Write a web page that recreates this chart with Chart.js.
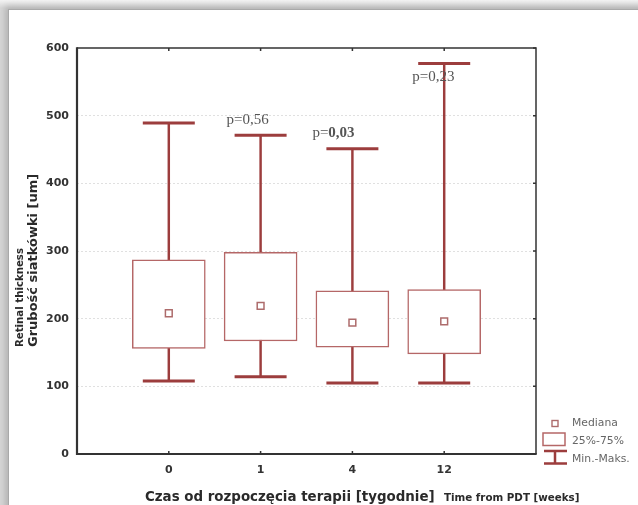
<!DOCTYPE html>
<html>
<head>
<meta charset="utf-8">
<script src="https://cdn.jsdelivr.net/npm/chart.js@4/dist/chart.umd.min.js"></script>
<style>
  html, body { margin: 0; padding: 0; width: 638px; height: 505px; overflow: hidden; }
  body { background: linear-gradient(to bottom, #f3f3f3 0px, #d6d6d6 8px); position: relative; }
  .card {
    position: absolute; left: 8px; top: 9px; width: 700px; height: 560px;
    background: #fff; border-top: 1px solid #a9a9a9; border-left: 1px solid #a9a9a9;
    box-shadow: -3px -3px 6px rgba(0,0,0,0.16);
  }
  canvas { position: absolute; left: 0; top: 0; }
</style>
</head>
<body>
<div class="card"></div>
<canvas id="chart" width="638" height="505"></canvas>
<script>
// Retinal thickness by week since PDT start: min, quartiles, median, max
const categories   = ['0', '1', '4', '12'];
const minValues    = [108, 114, 105, 105];
const q1Values     = [156, 167, 158, 148];
const medianValues = [208, 219, 194, 196];
const q3Values     = [287, 298, 241, 243];
const maxValues    = [489, 471, 451, 577];
const pValueTexts  = ['', 'p=0,56', 'p=0,03', 'p=0,23'];
const yTickValues  = [0, 100, 200, 300, 400, 500, 600];

const WHISKER = '#9c3d3d';
const BOX = '#b56767';
const MEDIAN = '#ad6b6b';
const AXIS = '#333333';

// empty slots at both ends so the groups sit inside the frame
const pad = arr => [null, ...arr, null];
const axisLabels = pad(categories).map(c => c === null ? '' : c);

const frameAndText = {
  id: 'frameAndText',
  afterDatasetsDraw(chart) {
    const {ctx, chartArea: a, scales: {x, y}} = chart;
    ctx.save();
    // frame
    ctx.strokeStyle = AXIS;
    ctx.lineWidth = 1.5;
    ctx.beginPath();
    ctx.moveTo(a.left, a.top); ctx.lineTo(a.right, a.top); ctx.lineTo(a.right, a.bottom);
    ctx.stroke();
    ctx.lineWidth = 2.2;
    ctx.beginPath();
    ctx.moveTo(a.left, a.top - 0.7); ctx.lineTo(a.left, a.bottom); ctx.lineTo(a.right + 0.7, a.bottom);
    ctx.stroke();
    // small inward tick marks
    ctx.lineWidth = 1.5;
    ctx.beginPath();
    categories.forEach((c, i) => {
      const px = x.getPixelForValue(i + 1);
      ctx.moveTo(px, a.top); ctx.lineTo(px, a.top + 3);
      ctx.moveTo(px, a.bottom); ctx.lineTo(px, a.bottom - 3);
    });
    yTickValues.forEach(v => {
      const py = y.getPixelForValue(v);
      ctx.moveTo(a.right, py); ctx.lineTo(a.right - 3, py);
    });
    ctx.stroke();

    // p-value notes above the whiskers
    const notes = chart.options.plugins.frameAndText.notes;
    ctx.fillStyle = '#555';
    ctx.textBaseline = 'alphabetic';
    ctx.textAlign = 'left';
    pValueTexts.forEach((t, i) => {
      if (!t) return;
      const n = notes[i];
      const px = x.getPixelForValue(i + 1) + n.dx;
      const py = y.getPixelForValue(maxValues[i]) + n.dy;
      if (n.boldValue) {
        const head = t.slice(0, 2), tail = t.slice(2);
        ctx.font = '15px "Liberation Serif"';
        ctx.fillText(head, px, py);
        const w = ctx.measureText(head).width;
        ctx.font = 'bold 15px "Liberation Serif"';
        ctx.fillText(tail, px + w, py);
      } else {
        ctx.font = '15px "Liberation Serif"';
        ctx.fillText(t, px, py);
      }
    });

    // axis titles
    ctx.fillStyle = '#2a2a2a';
    ctx.font = 'bold 13.4px "DejaVu Sans"';
    ctx.fillText('Czas od rozpoczęcia terapii [tygodnie]', 145, 500.5);
    ctx.font = 'bold 10.3px "DejaVu Sans"';
    ctx.fillText('Time from PDT [weeks]', 444, 501);

    ctx.save();
    ctx.translate(37, 347);
    ctx.rotate(-Math.PI / 2);
    ctx.font = 'bold 13px "DejaVu Sans"';
    ctx.fillText('Grubość siatkówki [um]', 0, 0);
    ctx.restore();
    ctx.save();
    ctx.translate(22.5, 347);
    ctx.rotate(-Math.PI / 2);
    ctx.font = 'bold 10.2px "DejaVu Sans"';
    ctx.fillText('Retinal thickness', 0, 0);
    ctx.restore();

    // legend
    const lx = a.right + 7;
    ctx.strokeStyle = MEDIAN;
    ctx.lineWidth = 1.4;
    ctx.strokeRect(lx + 9, 420.5, 6, 6);
    ctx.strokeStyle = BOX;
    ctx.lineWidth = 1.5;
    ctx.strokeRect(lx, 433, 22, 12.5);
    ctx.strokeStyle = WHISKER;
    ctx.lineWidth = 2.5;
    ctx.beginPath();
    ctx.moveTo(lx + 1, 451); ctx.lineTo(lx + 24, 451);
    ctx.moveTo(lx + 12, 451); ctx.lineTo(lx + 12, 463.5);
    ctx.moveTo(lx + 1, 463.5); ctx.lineTo(lx + 24, 463.5);
    ctx.stroke();
    ctx.fillStyle = '#666';
    ctx.font = '10.8px "DejaVu Sans"';
    ctx.textBaseline = 'middle';
    ctx.fillText('Mediana', lx + 29, 423.5);
    ctx.fillText('25%-75%', lx + 29, 441);
    ctx.fillText('Min.-Maks.', lx + 29, 459);
    ctx.restore();
  }
};

new Chart(document.getElementById('chart'), {
  type: 'bar',
  data: {
    labels: axisLabels,
    datasets: [
      {
        type: 'line', label: 'Mediana', data: pad(medianValues), showLine: false,
        pointStyle: 'rect', pointRadius: 4.8, pointBackgroundColor: '#fff',
        pointBorderColor: MEDIAN, pointBorderWidth: 1.5, order: 1
      },
      {
        type: 'line', label: 'Maks.', data: pad(maxValues), showLine: false,
        pointStyle: 'line', pointRadius: 26, pointBorderColor: WHISKER, pointBorderWidth: 3, order: 2
      },
      {
        type: 'line', label: 'Min.', data: pad(minValues), showLine: false,
        pointStyle: 'line', pointRadius: 26, pointBorderColor: WHISKER, pointBorderWidth: 3, order: 2
      },
      {
        label: '25%-75%', data: pad(q1Values.map((q, i) => [q, q3Values[i]])),
        backgroundColor: '#fff', borderColor: BOX, borderWidth: 1.5, borderSkipped: false,
        barThickness: 73, grouped: false, order: 3
      },
      {
        label: 'Min.-Maks.', data: pad(minValues.map((m, i) => [m, maxValues[i]])),
        backgroundColor: WHISKER, borderWidth: 0, barThickness: 1.8, grouped: false, order: 4
      }
    ]
  },
  options: {
    responsive: false,
    animation: false,
    events: [],
    layout: { padding: { left: 0, top: 48, right: 102, bottom: 0 } },
    plugins: {
      legend: { display: false },
      tooltip: { enabled: false },
      frameAndText: {
        notes: [null, { dx: -34, dy: -11 }, { dx: -40, dy: -12, boldValue: true }, { dx: -32, dy: 17.5 }]
      }
    },
    scales: {
      x: {
        type: 'category',
        offset: false,
        grid: { display: false, drawTicks: false, offset: false },
        border: { display: false },
        ticks: { color: AXIS, font: { family: 'DejaVu Sans', weight: 'bold', size: 11 }, padding: 10, autoSkip: false, maxRotation: 0 },
        afterFit: s => { s.height = 51; }
      },
      y: {
        min: 0, max: 600,
        afterBuildTicks: s => { s.ticks = yTickValues.map(v => ({ value: v })); },
        grid: {
          drawTicks: false,
          color: c => (c.tick && (c.tick.value === 0 || c.tick.value === 600)) ? 'rgba(0,0,0,0)' : '#e0e0e0',
          lineWidth: 1
        },
        border: { display: false, dash: [2, 2] },
        ticks: { color: AXIS, font: { family: 'DejaVu Sans', weight: 'bold', size: 11 }, padding: 8 },
        afterFit: s => { s.width = 77; }
      }
    }
  },
  plugins: [frameAndText]
});
</script>
</body>
</html>
